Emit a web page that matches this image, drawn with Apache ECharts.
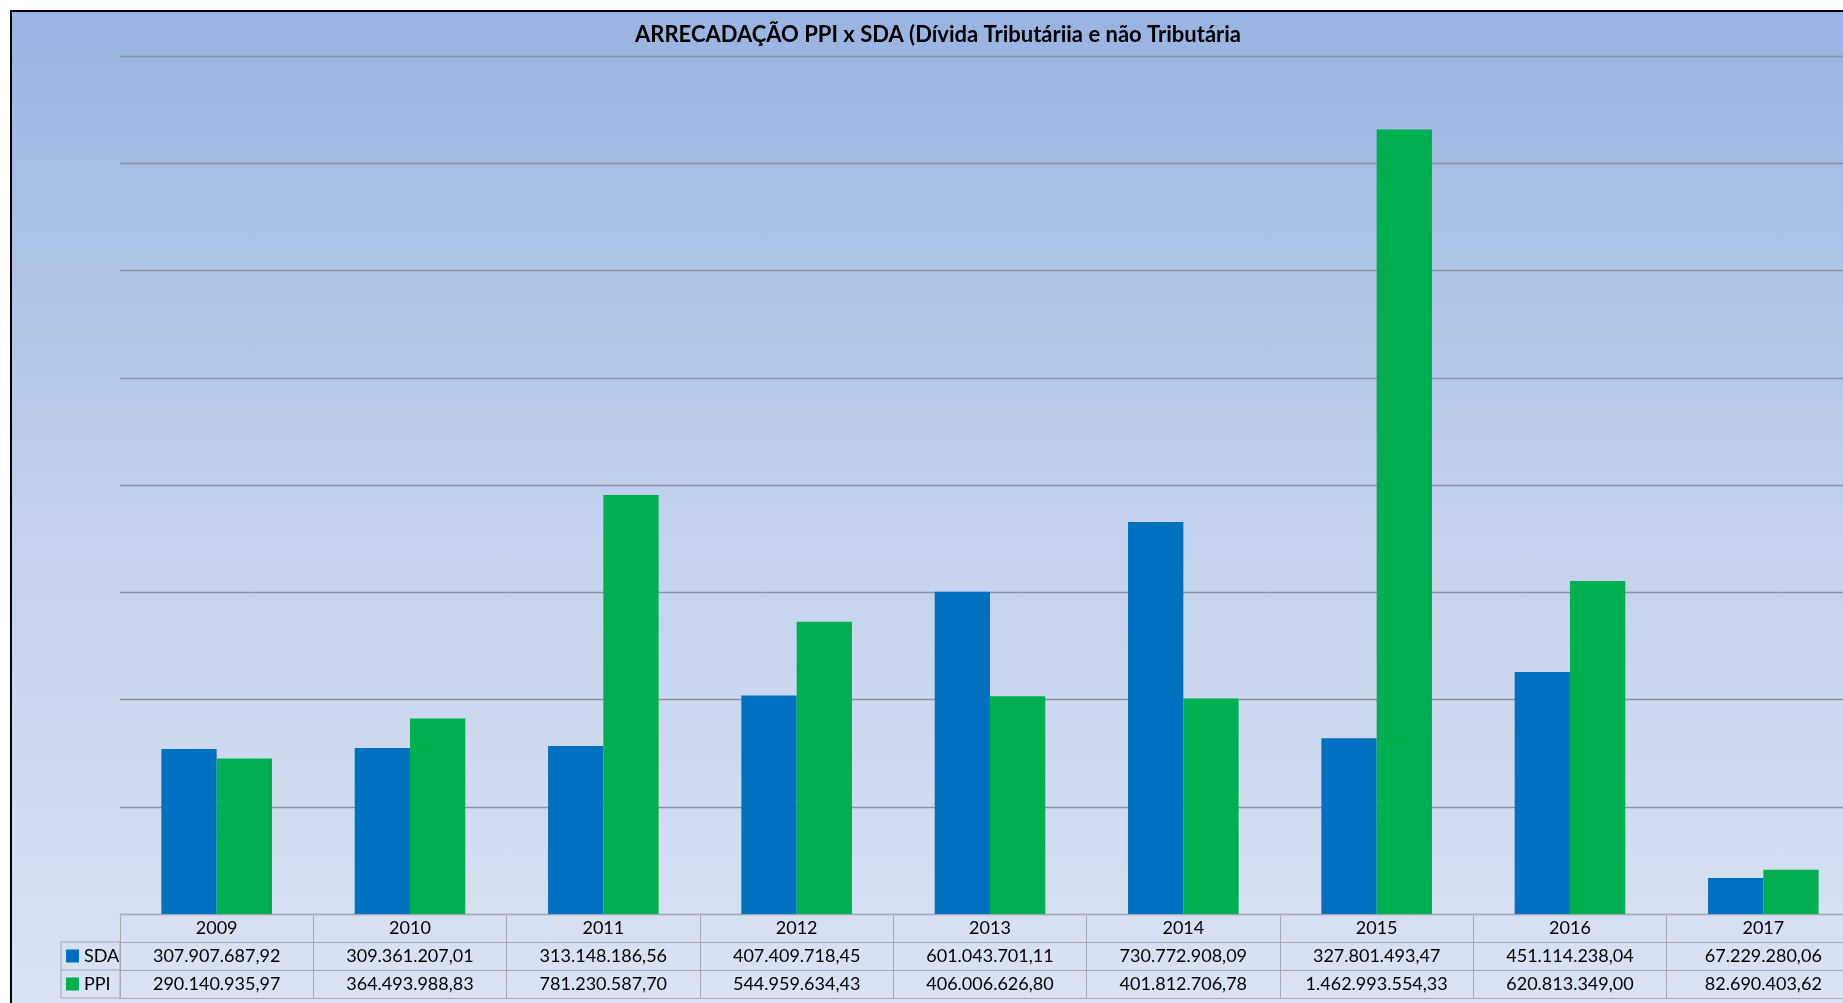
<!DOCTYPE html>
<html>
<head>
<meta charset="utf-8">
<script src="https://cdn.jsdelivr.net/npm/echarts@6/dist/echarts.min.js"></script>
<style>
  html, body { margin: 0; padding: 0; background: #ffffff; overflow: hidden; }
  #frame { position: absolute; left: 10px; top: 10px; width: 1900px; height: 1040px;
           border: 2px solid #000; background: linear-gradient(to bottom, #99B4E2 0%, #C3D1EC 50%, #DDE5F4 100%); }
  #chart { position: absolute; left: 0; top: 0; width: 1843px; height: 1003px; }
</style>
</head>
<body>
<div id="frame"></div>
<div id="chart"></div>
<script>
const titleText = 'ARRECADAÇÃO PPI x SDA (Dívida Tributáriia e não Tributária';
const years = ['2009', '2010', '2011', '2012', '2013', '2014', '2015', '2016', '2017'];
const seriesNames = ['SDA', 'PPI'];
const sdaValues = [307907687.92, 309361207.01, 313148186.56, 407409718.45, 601043701.11, 730772908.09, 327801493.47, 451114238.04, 67229280.06];
const ppiValues = [290140935.97, 364493988.83, 781230587.70, 544959634.43, 406006626.80, 401812706.78, 1462993554.33, 620813349.00, 82690403.62];
const yMax = 1600000000;
const yInterval = 200000000;

function fmtBR(v) {
  const parts = v.toFixed(2).split('.');
  return parts[0].replace(/\B(?=(\d{3})+(?!\d))/g, '.') + ',' + parts[1];
}

const FONT = 'Lato';
const lineCol = '#A3A8B2';

function tableAxis(offset, formatter, showLabel) {
  return {
    type: 'category',
    gridIndex: 0,
    position: 'bottom',
    offset: offset,
    data: years,
    boundaryGap: true,
    axisLine: { show: true, lineStyle: { color: lineCol, width: 1 } },
    axisTick: { show: showLabel, alignWithLabel: false, inside: false, length: 28, lineStyle: { color: lineCol, width: 1 } },
    axisLabel: {
      show: showLabel, interval: 0, margin: 0, color: '#000', fontFamily: FONT, fontSize: 18,
      lineHeight: 28, formatter: formatter, hideOverlap: false
    },
    splitLine: { show: false }
  };
}

const chart = echarts.init(document.getElementById('chart'), null, { renderer: 'canvas' });
chart.setOption({
  backgroundColor: 'transparent',
  animation: false,
  title: {
    text: titleText,
    left: 938,
    textAlign: 'center',
    top: 23,
    padding: 0,
    textStyle: { fontFamily: FONT, fontWeight: 'bold', fontSize: 22, color: '#000', lineHeight: 24 }
  },
  legend: {
    data: seriesNames,
    orient: 'vertical',
    left: 66,
    top: 942,
    padding: 0,
    itemGap: 0,
    itemWidth: 13,
    itemHeight: 13,
    icon: 'rect',
    selectedMode: false,
    textStyle: { fontFamily: FONT, fontSize: 18, color: '#000', lineHeight: 28 }
  },
  grid: { left: 120, top: 56, width: 1740, height: 858, containLabel: false, outerBoundsMode: 'none' },
  xAxis: [
    tableAxis(0, function (v) { return v; }, true),
    tableAxis(28, function (v, i) { return fmtBR(sdaValues[i]); }, true),
    tableAxis(56, function (v, i) { return fmtBR(ppiValues[i]); }, true),
    tableAxis(84, null, false)
  ],
  yAxis: {
    type: 'value',
    min: 0,
    max: yMax,
    interval: yInterval,
    axisLine: { show: false },
    axisTick: { show: false },
    axisLabel: { show: false },
    splitLine: { show: true, lineStyle: { color: '#8B93A3', width: 1.3 } }
  },
  graphic: [
    {
      type: 'rect',
      shape: { x: 61, y: 942, width: 59, height: 56 },
      style: { fill: null, stroke: lineCol, lineWidth: 1 },
      silent: true
    },
    {
      type: 'line',
      shape: { x1: 61, y1: 970, x2: 120, y2: 970 },
      style: { stroke: lineCol, lineWidth: 1 },
      silent: true
    }
  ],
  series: [
    {
      name: seriesNames[0], type: 'bar', xAxisIndex: 0, data: sdaValues,
      barGap: '0%', barCategoryGap: '42.8%',
      itemStyle: { color: '#0070C0' }
    },
    {
      name: seriesNames[1], type: 'bar', xAxisIndex: 0, data: ppiValues,
      barGap: '0%', barCategoryGap: '42.8%',
      itemStyle: { color: '#00B050' }
    }
  ]
});
</script>
</body>
</html>
